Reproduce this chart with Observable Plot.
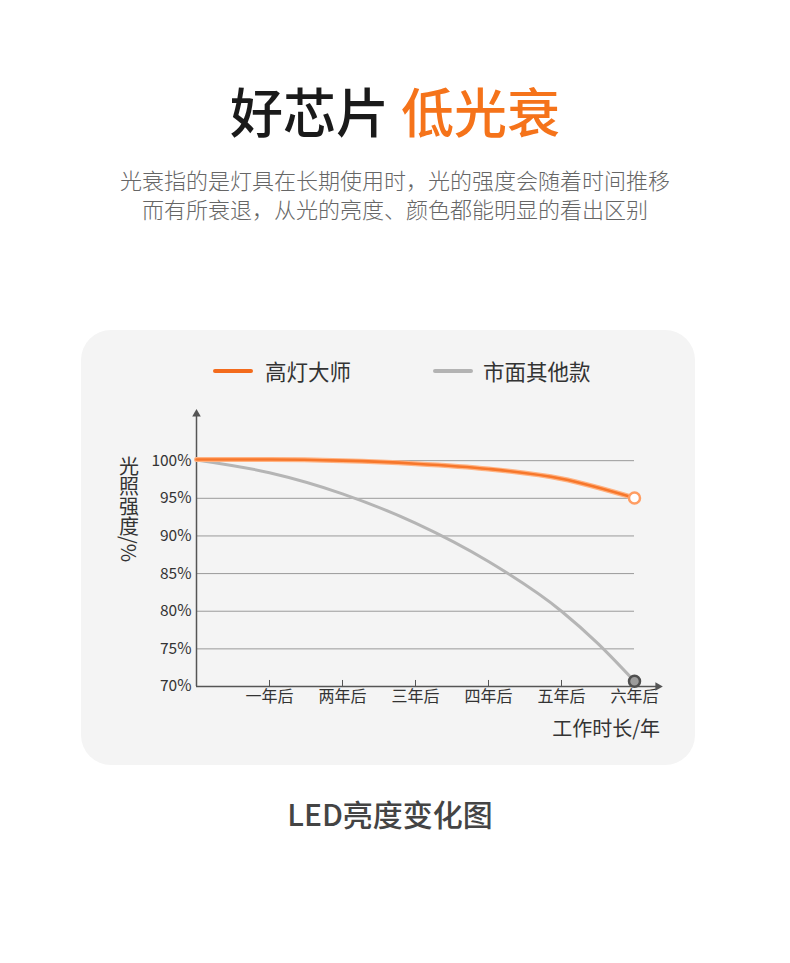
<!DOCTYPE html>
<html><head><meta charset="utf-8">
<script src="https://cdn.jsdelivr.net/npm/d3@7"></script>
<script src="https://cdn.jsdelivr.net/npm/@observablehq/plot@0.6"></script>
<style>
body{margin:0;background:#fff;font-family:"Noto Sans CJK SC","Noto Sans",sans-serif;}
#page{position:relative;width:790px;height:963px;overflow:hidden;background:#fff}
#title{position:absolute;left:0;width:790px;top:84px;text-align:center;font-size:53px;line-height:53px;font-weight:500;color:#1a1a1a;white-space:pre}
#title .o{color:#f5731a}
#sub{position:absolute;left:0;width:790px;top:165px;text-align:center;font-size:22px;line-height:29px;color:#666;font-weight:300}
#card{position:absolute;left:81px;top:330px;width:614px;height:435px;border-radius:30px;background:#f4f4f4}
.sw{position:absolute;top:369px;width:40px;height:4px;border-radius:2px}
.lt{position:absolute;top:360px;font-size:21.5px;line-height:21.5px;color:#333}
#ylabel{position:absolute;left:118.5px;top:456px;font-size:20px;line-height:20px;width:20px;writing-mode:vertical-rl;color:#333}
#xlabel{position:absolute;right:130px;top:718px;font-size:20px;line-height:20px;color:#333;white-space:nowrap}
#chart{position:absolute;left:81px;top:330px}
#foot{position:absolute;left:0;width:780px;top:798px;text-align:center;font-size:30px;line-height:30px;font-weight:500;color:#444}
</style></head><body>
<div id="page">
  <div id="title"><span>好芯片</span> <span class="o">低光衰</span></div>
  <div id="sub">光衰指的是灯具在长期使用时，光的强度会随着时间推移<br>而有所衰退，从光的亮度、颜色都能明显的看出区别</div>
  <div id="card"></div>
  <div id="legend"></div>
  <div id="ylabel">光照强度/%</div>
  <div id="xlabel">工作时长/年</div>
  <div id="chart"></div>
  <div id="foot">LED亮度变化图</div>
</div>
<script>
// Series
const seriesNames = ["高灯大师", "市面其他款"];
const seriesColors = ["#f36b1c", "#b3b3b3"];
const ourYears = [0, 1, 2, 3, 4, 5, 6];
const ourValues = [100.15, 100.15, 100.0, 99.6, 98.9, 97.6, 95.05];
const otherYears = [0, 1, 2, 3, 4, 5, 5.5, 6];
const otherValues = [100.1, 98.4, 95.6, 91.7, 86.6, 80.0, 75.7, 70.7];
// Ticks
const xTickValues = [1, 2, 3, 4, 5, 6];
const xTickLabels = ["一年后", "两年后", "三年后", "四年后", "五年后", "六年后"];
const yTicks = [70, 75, 80, 85, 90, 95, 100];
const yGrid = [75, 80, 85, 90, 95, 100];
const yMin = 70, yAxisTop = 106.2, xMax = 6, xAxisEnd = 6.32;

const ourData = ourYears.map((year, i) => ({year, value: ourValues[i]}));
const otherData = otherYears.map((year, i) => ({year, value: otherValues[i]}));

// Legend (HTML)
const legend = document.getElementById("legend");
const swLeft = [213, 433], txLeft = [265, 483];
seriesNames.forEach((n, i) => {
  const s = document.createElement("div");
  s.className = "sw"; s.style.left = swLeft[i] + "px"; s.style.background = seriesColors[i];
  legend.appendChild(s);
  const t = document.createElement("div");
  t.className = "lt"; t.style.left = txLeft[i] + "px"; t.textContent = n;
  legend.appendChild(t);
});

const chart = Plot.plot({
  width: 614, height: 435,
  marginLeft: 115, marginRight: 61, marginTop: 83.5, marginBottom: 79,
  style: {background: "transparent", fontFamily: '"Noto Sans CJK SC","Noto Sans",sans-serif', fontSize: "15px", color: "#333", overflow: "visible"},
  x: {domain: [0, xMax]},
  y: {domain: [yMin, yAxisTop]},
  marks: [
    Plot.gridY(yGrid, {stroke: "#9a9a9a", strokeOpacity: 1, strokeWidth: 1}),
    Plot.axisY(yTicks, {tickSize: 0, tickPadding: 5, tickFormat: d => d + "%", fontSize: 15.5, fill: "#333", label: null}),
    Plot.axisX(xTickValues, {tickSize: 0, tickPadding: 4, tickFormat: d => xTickLabels[xTickValues.indexOf(d)], fontSize: 16, fill: "#333", label: null}),
    Plot.ruleX([0], {y1: yMin, y2: yAxisTop, stroke: "#555", strokeWidth: 1.5}),
    Plot.ruleY([yMin], {x1: 0, x2: xAxisEnd, stroke: "#555", strokeWidth: 1.5}),
    Plot.ruleX(xTickValues, {y1: yMin, y2: yMin + 0.8, stroke: "#555", strokeWidth: 1}),
    Plot.dot([{x: 0, y: yAxisTop}], {x: "x", y: "y", symbol: "triangle", r: 3.2, fill: "#555", stroke: "none"}),
    Plot.dot([{x: xAxisEnd, y: yMin}], {x: "x", y: "y", symbol: "triangle", r: 3.2, rotate: 90, fill: "#555", stroke: "none"}),
    Plot.line(otherData, {x: "year", y: "value", curve: "monotone-x", stroke: "#b5b5b5", strokeWidth: 3}),
    Plot.line(ourData, {x: "year", y: "value", curve: "monotone-x", stroke: "#ffb383", strokeWidth: 5}),
    Plot.line(ourData, {x: "year", y: "value", curve: "monotone-x", stroke: "#f7772b", strokeWidth: 2.6}),
    Plot.dot(ourData.slice(-1), {x: "year", y: "value", r: 5.5, fill: "#fff", stroke: "#ff9d62", strokeWidth: 2.5}),
    Plot.dot(otherData.slice(-1), {x: "year", y: "value", r: 5.5, fill: "#9c9c9c", stroke: "#4f4f4f", strokeWidth: 2.5})
  ]
});
document.getElementById("chart").appendChild(chart);
</script>
</body></html>
